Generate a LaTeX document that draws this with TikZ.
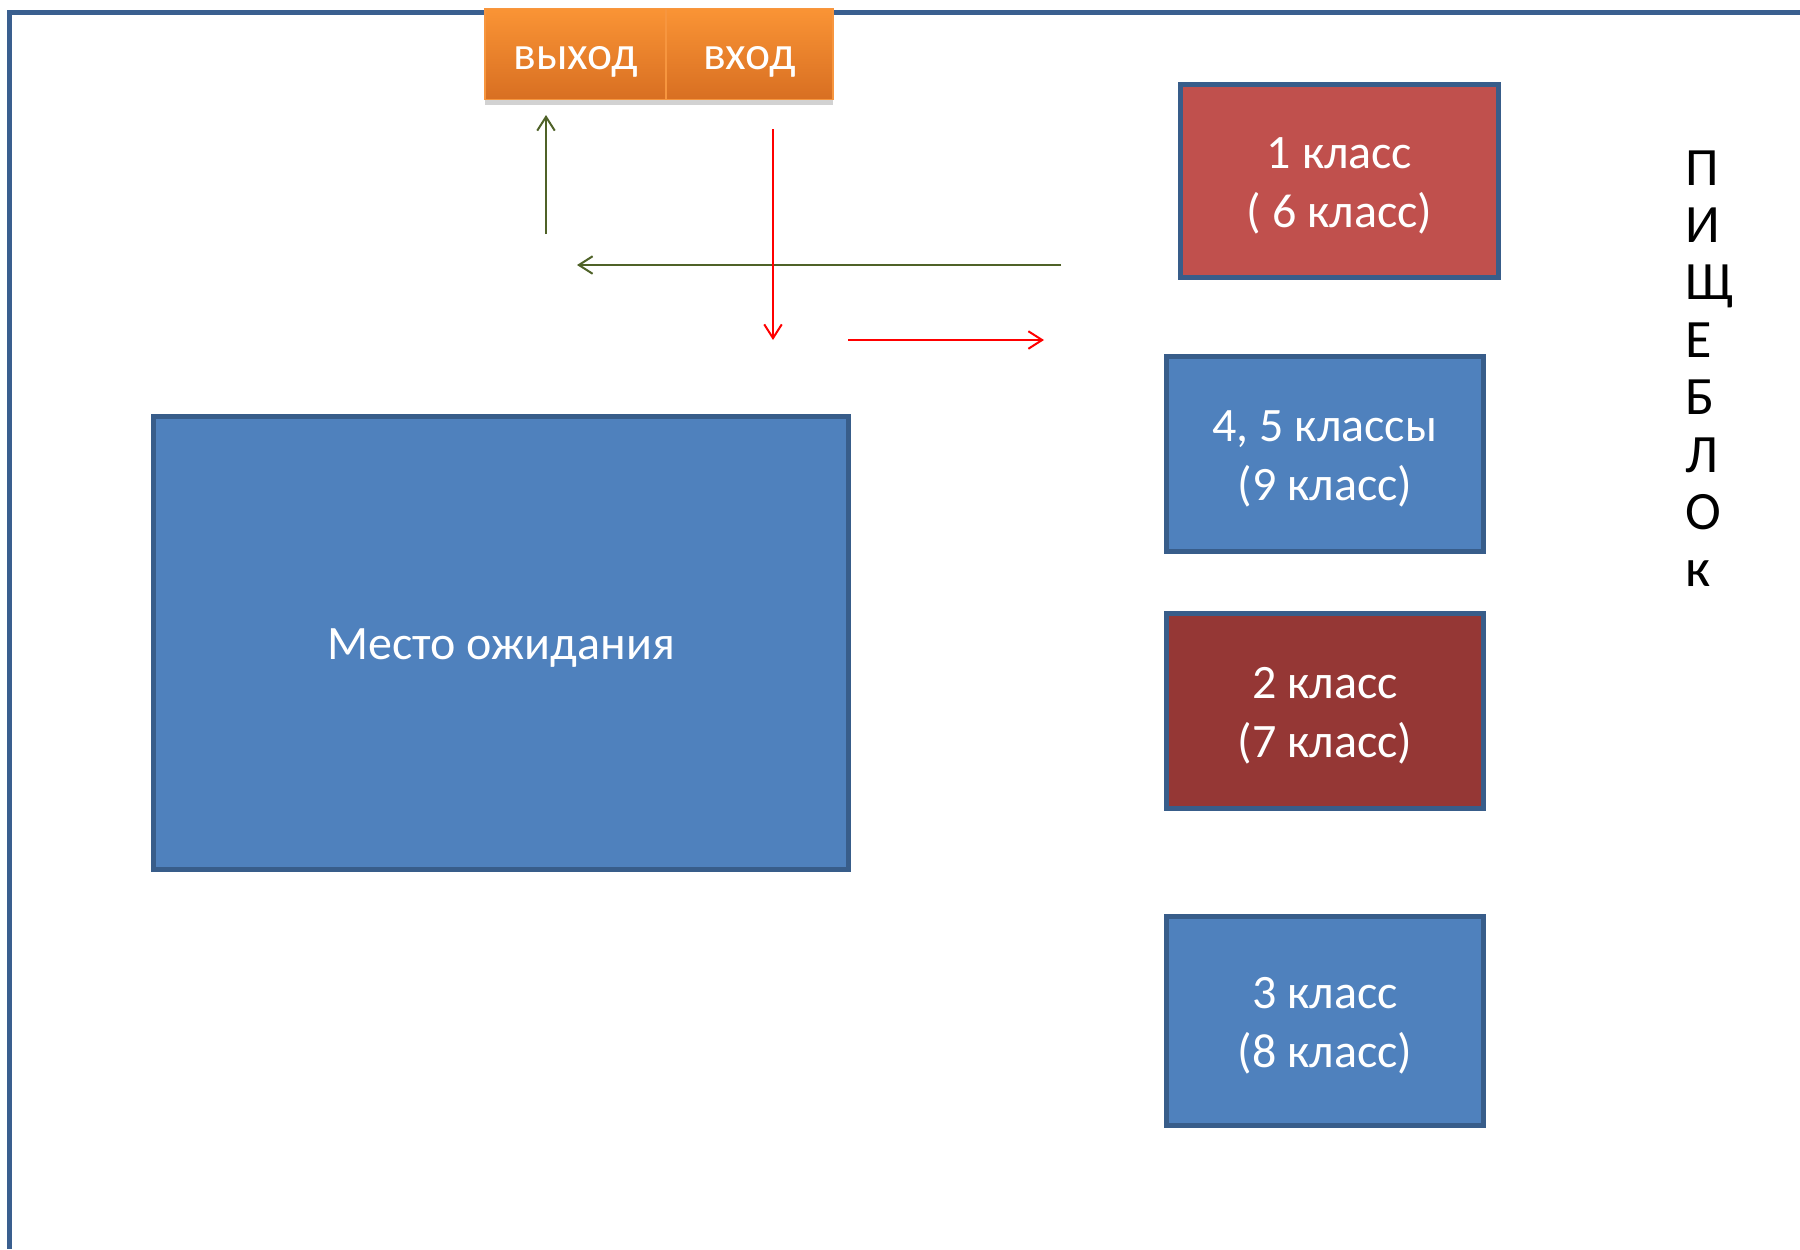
\documentclass[tikz,border=0pt]{standalone}
\usepackage{fontspec}
\setmainfont{Carlito}
\usetikzlibrary{arrows.meta,shadows}
\definecolor{frameblue}{HTML}{3A5F8F}
\definecolor{boxborder}{HTML}{385D8A}
\definecolor{boxblue}{HTML}{4F81BD}
\definecolor{boxred}{HTML}{C0504D}
\definecolor{boxdarkred}{HTML}{953735}
\definecolor{orangetop}{HTML}{FA9435}
\definecolor{orangebot}{HTML}{D86F22}
\definecolor{orangeedge}{HTML}{F7963F}
\definecolor{arrowgreen}{HTML}{4F6228}
\definecolor{arrowred}{HTML}{FF0000}
\begin{document}
\begin{tikzpicture}[x=0.4pt,y=-0.4pt,
  frameline/.style={draw=frameblue,line width=2pt},
  classbox/.style={draw=boxborder,line width=2pt,inner sep=0pt,outer sep=0pt},
  boxtext/.style={text=white,align=center,inner sep=0pt,
    font=\fontsize{19.2pt}{23.6pt}\selectfont},
  doorbox/.style={draw=orangeedge,line width=0.6pt,top color=orangetop,bottom color=orangebot,
    inner sep=0pt,outer sep=0pt,minimum height=36.4pt,
    drop shadow={shadow xshift=0pt,shadow yshift=-2pt,opacity=0.35}},
  doortext/.style={text=white,inner sep=0pt,font=\fontsize{19pt}{23pt}\selectfont},
  garrow/.style={draw=arrowgreen,line width=0.8pt,-{Straight Barb[length=5.5pt,width=7pt]}},
  rarrow/.style={draw=arrowred,line width=0.8pt,-{Straight Barb[length=5.5pt,width=7pt]}}
]
\useasboundingbox (0,0) rectangle (1800,1249);
\fill[white] (0,0) rectangle (1800,1249);
% outer frame
\draw[frameline] (1800,12.5) -- (9.5,12.5) -- (9.5,1249);

% doors
\node[doorbox,minimum width=72.4pt] (exit) at (575.5,54) {};
\node[doorbox,minimum width=66.8pt] (entry) at (749.5,54) {};
\node[doortext] (exitlabel) at (575.5,62) {выход};
\node[doortext] (entrylabel) at (749.5,62) {вход};

% rooms
\node[classbox,fill=boxred,minimum width=127pt,minimum height=77.4pt] (c1) at (1339.5,181) {};
\node[classbox,fill=boxblue,minimum width=126.6pt,minimum height=78pt] (c45) at (1324.8,453.5) {};
\node[classbox,fill=boxdarkred,minimum width=126.6pt,minimum height=78pt] (c2) at (1324.8,710.6) {};
\node[classbox,fill=boxblue,minimum width=126.6pt,minimum height=83.6pt] (c3) at (1324.8,1020.6) {};
\node[classbox,fill=boxblue,minimum width=278.2pt,minimum height=181.4pt] (wait) at (501.1,642.9) {};

\node[boxtext] (c1text) at ([yshift=-2pt]c1.center) {1 класс\\( 6 класс)};
\node[boxtext] (c45text) at ([yshift=-2pt]c45.center) {4, 5 классы\\(9 класс)};
\node[boxtext] (c2text) at ([yshift=-2pt]c2.center) {2 класс\\(7 класс)};
\node[boxtext] (c3text) at ([yshift=-2pt]c3.center) {3 класс\\(8 класс)};
\node[boxtext] (waittext) at ([yshift=-2.2pt]wait.center) {Место ожидания};

% vertical label
\node[anchor=north west,inner sep=0pt,align=left,font=\fontsize{21.6pt}{22.95pt}\selectfont] (kitchen) at (1685,150) {П\\И\\Щ\\Е\\Б\\Л\\О\\к};

% arrows
\coordinate (g1s) at (546,234);
\coordinate (g1e) at (546,115);
\coordinate (g2s) at (1061,265);
\coordinate (g2e) at (577,265);
\coordinate (r1s) at (773,129);
\coordinate (r1e) at (773,340);
\coordinate (r2s) at (848,340);
\coordinate (r2e) at (1044,340);
\draw[garrow] (g1s) -- (g1e);
\draw[garrow] (g2s) -- (g2e);
\draw[rarrow] (r1s) -- (r1e);
\draw[rarrow] (r2s) -- (r2e);
\end{tikzpicture}
\end{document}
